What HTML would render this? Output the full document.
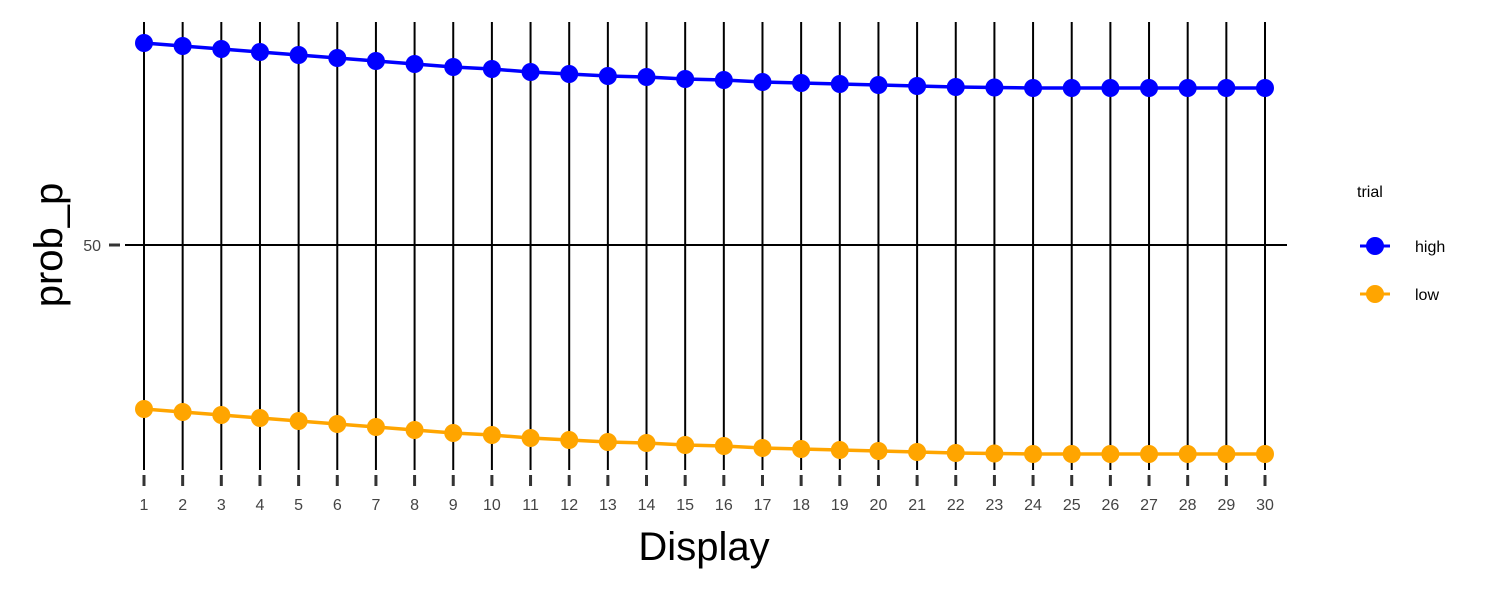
<!DOCTYPE html>
<html><head><meta charset="utf-8"><style>body{margin:0;background:#fff}svg{display:block}text{font-family:"Liberation Sans",sans-serif}</style></head>
<body>
<svg id="chart" width="1500" height="592" xmlns="http://www.w3.org/2000/svg">
<g id="grid"></g>
<g id="series"></g>
<g id="axes"></g>
<text x="704" y="560" font-size="40" text-anchor="middle" fill="#000">Display</text>
<text transform="translate(62,245) rotate(-90)" font-size="40" text-anchor="middle" fill="#000">prob_p</text>
<g>
<text x="1357" y="197" font-size="16" fill="#000">trial</text>
<g><line x1="1360" y1="246" x2="1390" y2="246" stroke="#0000ff" stroke-width="3"/><circle cx="1375" cy="246" r="9" fill="#0000ff"/><text x="1415" y="252" font-size="16" fill="#000">high</text></g>
<g><line x1="1360" y1="294" x2="1390" y2="294" stroke="#ffa500" stroke-width="3"/><circle cx="1375" cy="294" r="9" fill="#ffa500"/><text x="1415" y="300" font-size="16" fill="#000">low</text></g>
</g>
</svg>
<script>
const categories = [1,2,3,4,5,6,7,8,9,10,11,12,13,14,15,16,17,18,19,20,21,22,23,24,25,26,27,28,29,30];
const highValues = [90.4,89.8,89.2,88.6,88.0,87.4,86.8,86.2,85.6,85.2,84.6,84.2,83.8,83.6,83.2,83.0,82.6,82.4,82.2,82.0,81.8,81.6,81.5,81.4,81.4,81.4,81.4,81.4,81.4,81.4];
const lowValues = [17.2,16.6,16.0,15.4,14.8,14.2,13.6,13.0,12.4,12.0,11.4,11.0,10.6,10.4,10.0,9.8,9.4,9.2,9.0,8.8,8.6,8.4,8.3,8.2,8.2,8.2,8.2,8.2,8.2,8.2];
const yTicks = [50];
const NS="http://www.w3.org/2000/svg";
function xs(c){return 144+(c-1)*(1265-144)/29;}
function ys(v){return 245-(v-50)*5;}
function mk(t,a,p){const e=document.createElementNS(NS,t);for(const k in a)e.setAttribute(k,a[k]);p.appendChild(e);return e;}
const grid=document.getElementById('grid'),ser=document.getElementById('series'),ax=document.getElementById('axes');
categories.forEach(c=>{
  const l=mk('line',{x1:xs(c),x2:xs(c),y1:22,y2:470,stroke:'#000','stroke-width':2},grid);
  
  
  const t=mk('line',{x1:xs(c),x2:xs(c),y1:475,y2:486,stroke:'#333','stroke-width':3},ax);
  
  
  const tx=mk('text',{x:xs(c),y:510,'font-size':16,'text-anchor':'middle',fill:'#444'},ax);
  tx.textContent=c;
  
  
});
yTicks.forEach(v=>{
  const g=mk('line',{x1:125,x2:1287,y1:ys(v),y2:ys(v),stroke:'#000','stroke-width':2},grid);
  
  
  const t=mk('line',{x1:109,x2:120,y1:ys(v),y2:ys(v),stroke:'#333','stroke-width':3},ax);
  
  
  const tx=mk('text',{x:101,y:ys(v)+6,'font-size':16,'text-anchor':'end',fill:'#444'},ax);
  tx.textContent=v;
  
  
});
function drawSeries(vals,color,name){
  const p=mk('polyline',{points:vals.map((v,i)=>xs(categories[i])+','+ys(v)).join(' '),fill:'none',stroke:color,'stroke-width':3.5},ser);
  
  
  vals.forEach((v,i)=>{
    const c=mk('circle',{cx:xs(categories[i]),cy:ys(v),r:9,fill:color},ser);
    
    
  });
}
drawSeries(highValues,'#0000ff','high');
drawSeries(lowValues,'#ffa500','low');
</script>
</body></html>
